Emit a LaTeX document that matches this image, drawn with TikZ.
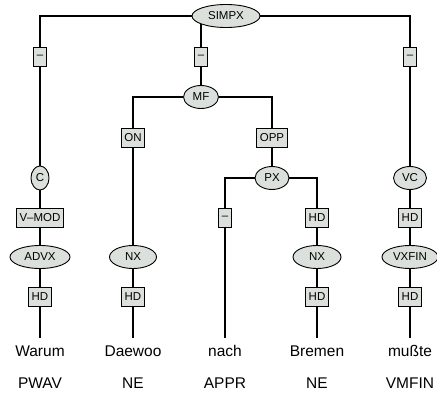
\documentclass[tikz,border=0pt]{standalone}
\usepackage{fontspec}
\setmainfont{Liberation Sans}
\usepackage{tikz}
\usetikzlibrary{shapes.geometric,backgrounds}
\definecolor{nodegray}{RGB}{220,224,220}
\newcommand{\labfont}{\fontsize{11.5}{13}\selectfont}
\newcommand{\wordfont}{\fontsize{15.5}{18}\selectfont}

\begin{document}
\begin{tikzpicture}[x=1pt,y=-1pt,
  cat/.style={draw,ellipse,fill=nodegray,inner sep=0pt,minimum height=23pt,
              font=\labfont,line width=0.9pt},
  fn/.style={draw,fill=nodegray,inner xsep=3.2pt,inner ysep=0pt,
             minimum height=19pt,font=\labfont,line width=0.9pt},
  word/.style={font=\wordfont,anchor=base,text height=11pt,inner xsep=0pt,inner ysep=7.5pt},
  tag/.style={font=\wordfont,anchor=base,inner sep=0pt},
  edge/.style={line width=1.1pt}
]
\useasboundingbox (0,0) rectangle (437,396);
\node[cat,minimum width=68pt] (simpx) at (226,16) {SIMPX};
\node[fn] (dashA) at (40,57) {--};
\node[fn] (dashB) at (201,57) {--};
\node[fn] (dashC) at (410,57) {--};
\node[cat,minimum width=35pt] (mf) at (201,97) {MF};
\node[fn] (on) at (133,138) {ON};
\node[fn] (opp) at (272,138) {OPP};
\node[cat,minimum width=18pt,minimum height=24pt] (c) at (40,178) {C};
\node[cat,minimum width=34pt] (px) at (272,178) {PX};
\node[cat,minimum width=33pt] (vc) at (410,178) {VC};
\node[fn] (vmod) at (40,218) {V--MOD};
\node[fn] (dashD) at (225,218) {--};
\node[fn] (hdC) at (317,218) {HD};
\node[fn] (hdE) at (410,218) {HD};
\node[cat,minimum width=60pt] (advx) at (40,257) {ADVX};
\node[cat,minimum width=47pt] (nxA) at (133,257) {NX};
\node[cat,minimum width=48pt] (nxB) at (317,257) {NX};
\node[cat,minimum width=56pt] (vxfin) at (410,257) {VXFIN};
\node[fn] (hdA) at (40,297) {HD};
\node[fn] (hdB) at (133,297) {HD};
\node[fn] (hdD) at (317,297) {HD};
\node[fn] (hdF) at (410,297) {HD};
\node[word] (warum) at (40,356.7) {Warum};
\node[word] (daewoo) at (133,356.7) {Daewoo};
\node[word] (nach) at (225,356.7) {nach};
\node[word] (bremen) at (317,356.7) {Bremen};
\node[word] (musste) at (410,356.7) {mußte};
\node[tag] (pwav) at (40,388) {PWAV};
\node[tag] (neA) at (133,388) {NE};
\node[tag] (appr) at (225,388) {APPR};
\node[tag] (neB) at (317,388) {NE};
\node[tag] (vmfin) at (410,388) {VMFIN};

\begin{scope}[on background layer]
\draw[edge] (simpx) -| (dashA);
\draw[edge] (simpx) -| (dashC);
\draw[edge] (dashB) -- (dashB |- simpx);
\draw[edge] (dashA) -- (c) -- (vmod) -- (advx) -- (hdA) -- (warum);
\draw[edge] (dashB) -- (mf);
\draw[edge] (mf) -| (on);
\draw[edge] (mf) -| (opp);
\draw[edge] (on) -- (nxA) -- (hdB) -- (daewoo);
\draw[edge] (opp) -- (px);
\draw[edge] (px) -| (dashD);
\draw[edge] (px) -| (hdC);
\draw[edge] (dashD) -- (nach);
\draw[edge] (hdC) -- (nxB) -- (hdD) -- (bremen);
\draw[edge] (dashC) -- (vc) -- (hdE) -- (vxfin) -- (hdF) -- (musste);
\end{scope}
\end{tikzpicture}
\end{document}
